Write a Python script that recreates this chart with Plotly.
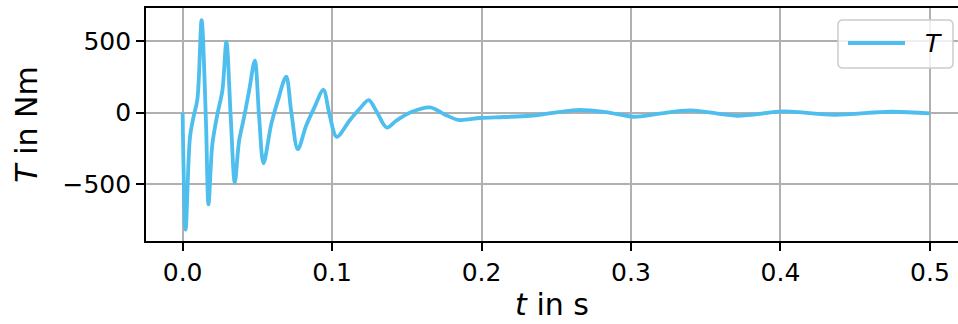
import plotly.graph_objects as go

# time in s
t = [0.0, 0.002, 0.0049, 0.0072, 0.0099, 0.0127, 0.0156, 0.0173, 0.0199, 0.0233,
     0.0266, 0.0293, 0.0322, 0.0349, 0.0378, 0.0411, 0.0445, 0.0483, 0.0512, 0.0541,
     0.0593, 0.0637, 0.0693, 0.0726, 0.0771, 0.0826, 0.0882, 0.0942, 0.0982, 0.1031,
     0.1116, 0.1183, 0.1245, 0.1295, 0.1366, 0.1429, 0.153, 0.1655, 0.175, 0.1845,
     0.199, 0.215, 0.2326, 0.2639, 0.2830, 0.3018, 0.3180, 0.3398, 0.371, 0.4023,
     0.4359, 0.4739, 0.5]
# torque in Nm
T = [0.0, -820, -174, -33, 96, 650, -56, -643, -220, -9,
     155, 497, -33, -491, -197, -33, 155, 366, -33, -355,
     -80, 85, 254, 14, -256, -92, 38, 160, -9, -169,
     -56, 26, 88, 14, -104, -56, 5, 38, -10, -50,
     -37, -30, -21, 19, 5, -28, -8, 17, -21, 9,
     -14, 7, -5]

x_ticks = [0.0, 0.1, 0.2, 0.3, 0.4, 0.5]
y_ticks = [-500, 0, 500]
series_name = "<i>T</i>"
line_color = "#4DBEEE"

W, H = 958, 324
ML, MR, MT, MB = 146, 0, 8, 83
PW, PH = W - ML - MR, H - MT - MB


def px_x(p):
    return (p - ML) / PW


def px_y(p):
    return (H - MB - p) / PH


fig = go.Figure()
fig.add_trace(go.Scatter(
    x=t, y=T, mode="lines", name=series_name, showlegend=False,
    line=dict(color=line_color, width=3.8, shape="spline", smoothing=0.9),
))

# legend box (matplotlib-like, rounded corners)
x0, x1, y0, y1, r = 838, 953, 20, 68, 5
path = (
    f"M {px_x(x0 + r)},{px_y(y0)} L {px_x(x1 - r)},{px_y(y0)} "
    f"Q {px_x(x1)},{px_y(y0)} {px_x(x1)},{px_y(y0 + r)} "
    f"L {px_x(x1)},{px_y(y1 - r)} Q {px_x(x1)},{px_y(y1)} {px_x(x1 - r)},{px_y(y1)} "
    f"L {px_x(x0 + r)},{px_y(y1)} Q {px_x(x0)},{px_y(y1)} {px_x(x0)},{px_y(y1 - r)} "
    f"L {px_x(x0)},{px_y(y0 + r)} Q {px_x(x0)},{px_y(y0)} {px_x(x0 + r)},{px_y(y0)} Z"
)
fig.add_shape(type="path", path=path, xref="paper", yref="paper",
              fillcolor="rgba(255,255,255,0.8)", line=dict(color="#cccccc", width=1.5),
              layer="above")
fig.add_shape(type="line", xref="paper", yref="paper",
              x0=px_x(848), x1=px_x(905), y0=px_y(43), y1=px_y(43),
              line=dict(color=line_color, width=3.8), layer="above")
fig.add_annotation(text=series_name, xref="paper", yref="paper",
                   x=px_x(933), y=px_y(43), xanchor="center", yanchor="middle",
                   showarrow=False, font=dict(size=25, color="black"))

font = "DejaVu Sans, Liberation Sans, sans-serif"
fig.update_layout(
    width=W, height=H,
    margin=dict(l=ML, r=MR, t=MT, b=MB),
    paper_bgcolor="white", plot_bgcolor="white",
    font=dict(family=font, color="black", size=25),
    showlegend=False,
    xaxis=dict(
        range=[-0.0245, 0.5188], tickvals=x_ticks,
        ticktext=[f"{v:.1f}" for v in x_ticks],
        showgrid=True, gridcolor="#b0b0b0", gridwidth=1.5,
        showline=True, linecolor="black", linewidth=1.6, mirror=True,
        ticks="outside", ticklen=8, tickwidth=1.5, tickcolor="black",
        zeroline=False,
        title=dict(text="<i>t</i> in s", font=dict(size=30), standoff=8),
    ),
    yaxis=dict(
        range=[-900, 735], tickvals=y_ticks,
        ticktext=["\u2212500", "0", "500"],
        showgrid=True, gridcolor="#b0b0b0", gridwidth=1.5,
        showline=True, linecolor="black", linewidth=1.6, mirror=False,
        ticks="outside", ticklen=8, tickwidth=1.5, tickcolor="black",
        zeroline=False,
        title=dict(text="<i>T</i> in Nm", font=dict(size=30), standoff=16),
    ),
)

fig.write_html(
    "out.html",
    config={"displayModeBar": False},
    post_script="document.body.style.margin='0';document.body.style.overflow='hidden';",
)
